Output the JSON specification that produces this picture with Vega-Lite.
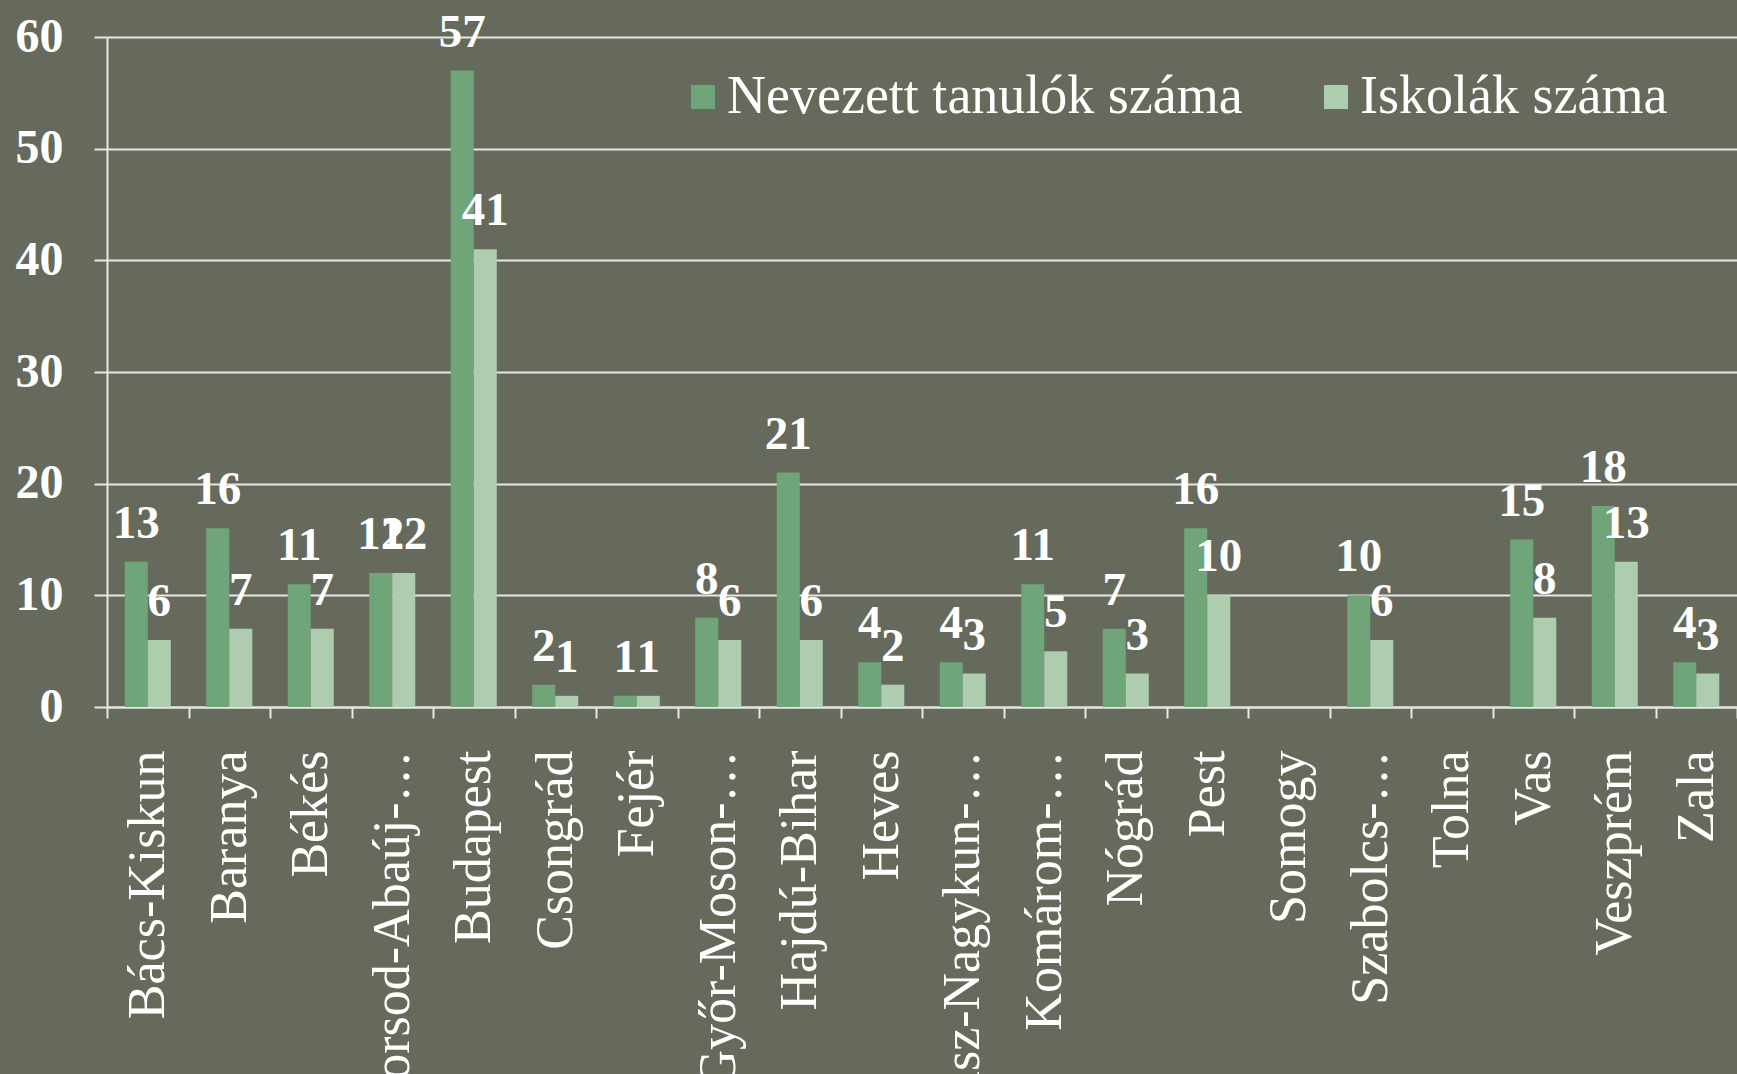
{
  "$schema": "https://vega.github.io/schema/vega-lite/v6.json",
  "autosize": {"type": "none"},
  "width": 1630,
  "height": 670,
  "padding": {"left": 107, "top": 37, "right": 0, "bottom": 367},
  "background": "#666a5c",
  "config": {"view": {"stroke": null}},
  "data": {
    "values": [
      {"megye": "Bács-Kiskun", "sorozat": "Nevezett tanulók száma", "ertek": 13},
      {"megye": "Bács-Kiskun", "sorozat": "Iskolák száma", "ertek": 6},
      {"megye": "Baranya", "sorozat": "Nevezett tanulók száma", "ertek": 16},
      {"megye": "Baranya", "sorozat": "Iskolák száma", "ertek": 7},
      {"megye": "Békés", "sorozat": "Nevezett tanulók száma", "ertek": 11},
      {"megye": "Békés", "sorozat": "Iskolák száma", "ertek": 7},
      {"megye": "Borsod-Abaúj-…", "sorozat": "Nevezett tanulók száma", "ertek": 12},
      {"megye": "Borsod-Abaúj-…", "sorozat": "Iskolák száma", "ertek": 12},
      {"megye": "Budapest", "sorozat": "Nevezett tanulók száma", "ertek": 57},
      {"megye": "Budapest", "sorozat": "Iskolák száma", "ertek": 41},
      {"megye": "Csongrád", "sorozat": "Nevezett tanulók száma", "ertek": 2},
      {"megye": "Csongrád", "sorozat": "Iskolák száma", "ertek": 1},
      {"megye": "Fejér", "sorozat": "Nevezett tanulók száma", "ertek": 1},
      {"megye": "Fejér", "sorozat": "Iskolák száma", "ertek": 1},
      {"megye": "Győr-Moson-…", "sorozat": "Nevezett tanulók száma", "ertek": 8},
      {"megye": "Győr-Moson-…", "sorozat": "Iskolák száma", "ertek": 6},
      {"megye": "Hajdú-Bihar", "sorozat": "Nevezett tanulók száma", "ertek": 21},
      {"megye": "Hajdú-Bihar", "sorozat": "Iskolák száma", "ertek": 6},
      {"megye": "Heves", "sorozat": "Nevezett tanulók száma", "ertek": 4},
      {"megye": "Heves", "sorozat": "Iskolák száma", "ertek": 2},
      {"megye": "Jász-Nagykun-…", "sorozat": "Nevezett tanulók száma", "ertek": 4},
      {"megye": "Jász-Nagykun-…", "sorozat": "Iskolák száma", "ertek": 3},
      {"megye": "Komárom-…", "sorozat": "Nevezett tanulók száma", "ertek": 11},
      {"megye": "Komárom-…", "sorozat": "Iskolák száma", "ertek": 5},
      {"megye": "Nógrád", "sorozat": "Nevezett tanulók száma", "ertek": 7},
      {"megye": "Nógrád", "sorozat": "Iskolák száma", "ertek": 3},
      {"megye": "Pest", "sorozat": "Nevezett tanulók száma", "ertek": 16},
      {"megye": "Pest", "sorozat": "Iskolák száma", "ertek": 10},
      {"megye": "Szabolcs-…", "sorozat": "Nevezett tanulók száma", "ertek": 10},
      {"megye": "Szabolcs-…", "sorozat": "Iskolák száma", "ertek": 6},
      {"megye": "Vas", "sorozat": "Nevezett tanulók száma", "ertek": 15},
      {"megye": "Vas", "sorozat": "Iskolák száma", "ertek": 8},
      {"megye": "Veszprém", "sorozat": "Nevezett tanulók száma", "ertek": 18},
      {"megye": "Veszprém", "sorozat": "Iskolák száma", "ertek": 13},
      {"megye": "Zala", "sorozat": "Nevezett tanulók száma", "ertek": 4},
      {"megye": "Zala", "sorozat": "Iskolák száma", "ertek": 3}
    ]
  },
  "encoding": {
    "x": {
      "field": "megye",
      "type": "nominal",
      "sort": null,
      "scale": {
        "domain": ["Bács-Kiskun", "Baranya", "Békés", "Borsod-Abaúj-…", "Budapest", "Csongrád", "Fejér", "Győr-Moson-…", "Hajdú-Bihar", "Heves", "Jász-Nagykun-…", "Komárom-…", "Nógrád", "Pest", "Somogy", "Szabolcs-…", "Tolna", "Vas", "Veszprém", "Zala"],
        "paddingInner": 0,
        "paddingOuter": 0
      },
      "axis": {
        "title": null,
        "tickBand": "extent",
        "labelAngle": 270,
        "labelAlign": "right",
        "labelBaseline": "middle",
        "labelFont": "Liberation Serif",
        "labelFontSize": 52,
        "labelColor": "#ffffff",
        "labelPadding": 32,
        "labelOverlap": false,
        "labelLimit": 600,
        "tickColor": "#e6e6e6",
        "tickSize": 11,
        "tickWidth": 2,
        "domainColor": "#e6e6e6",
        "domainWidth": 2,
        "grid": false
      }
    },
    "xOffset": {
      "field": "sorozat",
      "type": "nominal",
      "sort": ["Nevezett tanulók száma", "Iskolák száma"],
      "scale": {"paddingInner": 0, "paddingOuter": 0.77}
    },
    "y": {
      "field": "ertek",
      "type": "quantitative",
      "scale": {"domain": [0, 60], "nice": false},
      "axis": {
        "title": null,
        "values": [0, 10, 20, 30, 40, 50, 60],
        "grid": true,
        "gridColor": "#e6e6e6",
        "gridWidth": 2,
        "tickColor": "#e6e6e6",
        "tickSize": 13,
        "tickWidth": 2,
        "domainColor": "#e6e6e6",
        "domainWidth": 2,
        "labelFont": "Liberation Serif",
        "labelFontSize": 48,
        "labelFontWeight": "bold",
        "labelColor": "#ffffff",
        "labelPadding": 31
      }
    }
  },
  "layer": [
    {
      "mark": {"type": "bar"},
      "encoding": {
        "color": {
          "field": "sorozat",
          "type": "nominal",
          "sort": ["Nevezett tanulók száma", "Iskolák száma"],
          "scale": {"domain": ["Nevezett tanulók száma", "Iskolák száma"], "range": ["#70a479", "#aecdaf"]},
          "legend": {
            "title": null,
            "orient": "none",
            "legendX": 569,
            "legendY": 33,
            "direction": "horizontal",
            "symbolType": "square",
            "symbolSize": 576,
            "symbolStrokeWidth": 0,
            "symbolOpacity": 1,
            "labelFont": "Liberation Serif",
            "labelFontSize": 54,
            "labelColor": "#ffffff",
            "labelOffset": -3,
            "labelLimit": 1000,
            "columnPadding": 66
          }
        }
      }
    },
    {
      "mark": {"type": "text", "font": "Liberation Serif", "fontSize": 47, "fontWeight": "bold", "color": "#ffffff", "baseline": "alphabetic", "dy": -24},
      "encoding": {"text": {"field": "ertek", "type": "quantitative"}}
    }
  ]
}
